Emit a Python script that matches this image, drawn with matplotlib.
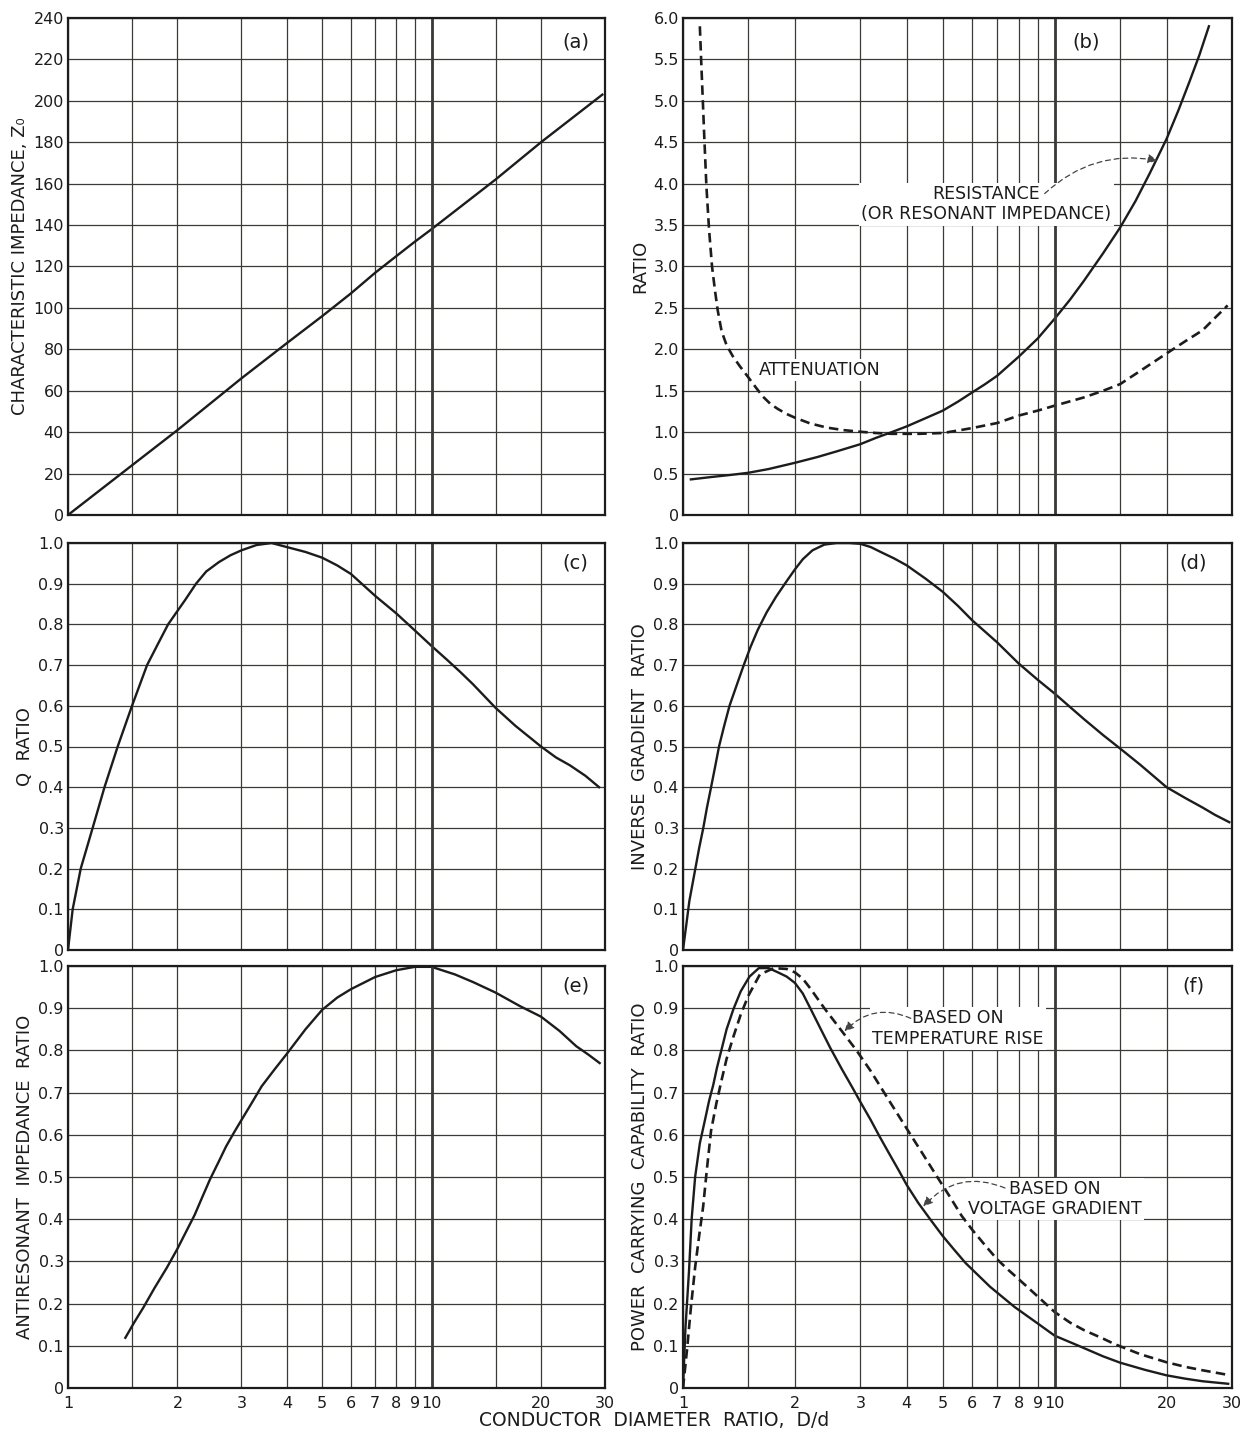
import numpy as np
import matplotlib
matplotlib.use("Agg")
import matplotlib.pyplot as plt
from matplotlib.ticker import FixedLocator, NullFormatter, FixedFormatter

# --- data ---
a_x = [1, 1.5, 2, 3, 4, 5, 6, 7, 8, 9, 10, 15, 20, 29.5]
a_z0 = [0, 24, 41, 66, 83, 96, 107, 117, 125, 132, 138, 162, 180, 203]

res_x = [1.05, 1.2, 1.35, 1.5, 1.7, 2.0, 2.3, 2.6, 3.0, 3.3, 3.64, 4.0, 4.5, 5.0, 5.5,
         6, 6.5, 7, 8, 9, 10, 11, 12, 13.5, 15, 16.5, 18, 20, 21.5, 23, 24.5, 26]
res_y = [0.43, 0.46, 0.485, 0.51, 0.555, 0.63, 0.70, 0.77, 0.855, 0.93, 1.0, 1.07, 1.17,
         1.26, 1.37, 1.48, 1.58, 1.68, 1.91, 2.13, 2.37, 2.6, 2.83, 3.16, 3.47, 3.79,
         4.12, 4.54, 4.88, 5.22, 5.55, 5.9]

att_x = [1.11, 1.12, 1.13, 1.14, 1.156, 1.175, 1.197, 1.22, 1.24, 1.27, 1.31, 1.36,
         1.42, 1.5, 1.57, 1.64, 1.72, 1.8, 1.9, 2.0, 2.2, 2.44, 2.7, 3.0, 3.3, 3.64,
         4.3, 5, 5.5, 6, 7, 8, 9, 10, 12, 13.5, 15, 17, 20, 22.5, 25, 27, 29.2]
att_y = [5.9, 5.45, 5.03, 4.6, 3.97, 3.45, 3.0, 2.7, 2.47, 2.22, 2.05, 1.92, 1.80,
         1.66, 1.54, 1.43, 1.34, 1.28, 1.22, 1.175, 1.105, 1.055, 1.025, 1.005, 0.99,
         0.98, 0.98, 0.99, 1.02, 1.05, 1.11, 1.2, 1.26, 1.32, 1.42, 1.5, 1.58, 1.74,
         1.95, 2.1, 2.23, 2.38, 2.53]

q_x = [1, 1.03, 1.084, 1.169, 1.26, 1.37, 1.5, 1.65, 1.77, 1.885, 2.0, 2.1, 2.25, 2.4,
       2.6, 2.8, 3.0, 3.3, 3.63, 4, 4.5, 5, 5.5, 6, 7, 8, 9, 10, 11, 12, 13, 15, 17,
       20, 22, 24, 26.5, 28.9]
q_y = [0, 0.1, 0.2, 0.30, 0.40, 0.50, 0.60, 0.70, 0.753, 0.80, 0.833, 0.86, 0.90,
       0.93, 0.953, 0.97, 0.982, 0.995, 1.0, 0.99, 0.978, 0.964, 0.945, 0.924, 0.87,
       0.827, 0.785, 0.747, 0.714, 0.683, 0.653, 0.595, 0.551, 0.50, 0.473, 0.454,
       0.428, 0.40]

ig_x = [1, 1.02, 1.04, 1.078, 1.105, 1.134, 1.16, 1.19, 1.22, 1.25, 1.29, 1.334, 1.4,
        1.457, 1.52, 1.59, 1.68, 1.78, 1.89, 2.0, 2.1, 2.23, 2.4, 2.59, 2.8, 3.0, 3.2,
        3.42, 3.7, 4, 4.5, 5, 5.5, 6, 6.5, 7, 8, 9, 10, 11, 12, 13.5, 15, 17, 20, 22.5,
        25, 27, 29.5]
ig_y = [0, 0.06, 0.12, 0.197, 0.25, 0.30, 0.35, 0.40, 0.45, 0.50, 0.55, 0.60, 0.655,
        0.70, 0.745, 0.787, 0.83, 0.868, 0.903, 0.935, 0.96, 0.982, 0.996, 1.0, 1.0,
        0.998, 0.99, 0.977, 0.962, 0.945, 0.912, 0.88, 0.845, 0.81, 0.782, 0.756,
        0.704, 0.664, 0.63, 0.597, 0.567, 0.528, 0.495, 0.455, 0.40, 0.373, 0.35,
        0.332, 0.314]

ar_x = [1.438, 1.52, 1.61, 1.73, 1.87, 2.0, 2.1, 2.23, 2.34, 2.46, 2.6, 2.72, 2.86,
        3.0, 3.2, 3.41, 3.7, 4, 4.5, 5, 5.5, 6, 7, 8, 9, 10, 11.6, 13, 15, 17.5, 20,
        22.5, 25, 27, 29]
ar_y = [0.119, 0.155, 0.19, 0.237, 0.285, 0.33, 0.366, 0.41, 0.452, 0.495, 0.537, 0.572,
        0.605, 0.635, 0.675, 0.715, 0.755, 0.792, 0.85, 0.896, 0.925, 0.945, 0.974,
        0.99, 0.998, 0.998, 0.98, 0.962, 0.937, 0.905, 0.88, 0.846, 0.81, 0.79, 0.77]

volt_x = [1, 1.015, 1.038, 1.055, 1.078, 1.11, 1.147, 1.175, 1.206, 1.235, 1.268, 1.31,
          1.367, 1.43, 1.51, 1.6, 1.7, 1.8, 1.9, 2.0, 2.1, 2.2, 2.34, 2.49, 2.67, 2.86,
          3.0, 3.2, 3.37, 3.6, 3.81, 4.0, 4.3, 4.65, 5.0, 5.35, 5.76, 6.7, 7.8, 9, 10,
          11.6, 13.5, 15, 17.5, 20, 22.5, 25, 29.3]
volt_y = [0, 0.14, 0.278, 0.40, 0.50, 0.58, 0.637, 0.68, 0.718, 0.76, 0.80, 0.85,
          0.898, 0.94, 0.975, 0.995, 0.995, 0.985, 0.975, 0.96, 0.935, 0.90, 0.853,
          0.806, 0.757, 0.711, 0.678, 0.635, 0.598, 0.553, 0.515, 0.481, 0.438, 0.397,
          0.36, 0.329, 0.296, 0.24, 0.192, 0.153, 0.124, 0.10, 0.075, 0.06, 0.043,
          0.03, 0.022, 0.016, 0.01]

temp_x = [1, 1.025, 1.05, 1.078, 1.105, 1.133, 1.16, 1.19, 1.23, 1.268, 1.31, 1.367,
          1.43, 1.5, 1.61, 1.756, 1.9, 2.0, 2.1, 2.2, 2.4, 2.6, 2.93, 3.2, 3.58, 4.09,
          4.4, 4.8, 5.2, 5.62, 6.0, 6.5, 7.0, 7.5, 8, 8.5, 9, 9.5, 10, 11, 12, 13.5,
          14.5, 17, 20, 22.5, 25, 29.3]
temp_y = [0, 0.09, 0.19, 0.286, 0.36, 0.43, 0.52, 0.61, 0.675, 0.727, 0.78, 0.833,
          0.885, 0.93, 0.98, 0.995, 0.993, 0.985, 0.97, 0.947, 0.90, 0.86, 0.80, 0.751,
          0.682, 0.601, 0.557, 0.504, 0.456, 0.408, 0.375, 0.338, 0.305, 0.28, 0.258,
          0.237, 0.217, 0.198, 0.18, 0.155, 0.137, 0.117, 0.104, 0.08, 0.061, 0.05,
          0.042, 0.031]

x_major = [1, 2, 3, 4, 5, 6, 7, 8, 9, 10, 20, 30]
x_minor = [1.5, 15]
x_labels = ["1", "2", "3", "4", "5", "6", "7", "8", "9", "10", "20", "30"]

ratio_ticks = [0, 0.1, 0.2, 0.3, 0.4, 0.5, 0.6, 0.7, 0.8, 0.9, 1.0]
ratio_labels = ["0", "0.1", "0.2", "0.3", "0.4", "0.5", "0.6", "0.7", "0.8", "0.9", "1.0"]
z_ticks = list(range(0, 241, 20))
z_labels = [str(v) for v in z_ticks]
b_ticks = [0, 0.5, 1.0, 1.5, 2.0, 2.5, 3.0, 3.5, 4.0, 4.5, 5.0, 5.5, 6.0]
b_labels = ["0"] + ["%.1f" % v for v in b_ticks[1:]]

INK = "#1c1c1c"
GRID = "#3a3a36"
ARROW = "#444444"
plt.rcParams['font.family'] = ['DejaVu Sans']

fig = plt.figure(figsize=(12.46, 14.35), dpi=100)
W, H = 1246, 1435

def make_ax(left, right, top, bottom):
    return fig.add_axes([left / W, 1 - bottom / H, (right - left) / W, (bottom - top) / H])

def style(ax, yticks, ylabels, ylabel, tag, tag_x, bottom_row=False):
    ax.set_xscale('log')
    ax.set_xlim(1, 30)
    ax.set_ylim(yticks[0], yticks[-1])
    ax.xaxis.set_major_locator(FixedLocator(x_major))
    ax.xaxis.set_minor_locator(FixedLocator(x_minor))
    ax.xaxis.set_minor_formatter(NullFormatter())
    if bottom_row:
        ax.xaxis.set_major_formatter(FixedFormatter(x_labels))
    else:
        ax.xaxis.set_major_formatter(NullFormatter())
    ax.set_yticks(yticks)
    ax.set_yticklabels(ylabels)
    ax.tick_params(which='both', length=0, labelsize=11.5, colors=INK, pad=3)
    ax.tick_params(axis='x', pad=6)
    ax.grid(True, which='both', color=GRID, lw=0.9)
    ax.axvline(10, color=GRID, lw=2.0)
    for s in ax.spines.values():
        s.set_color(INK)
        s.set_linewidth(1.6)
    ax.set_ylabel(ylabel, fontsize=13, color=INK, labelpad=3)
    ax.text(tag_x, 0.952, tag, transform=ax.transAxes, fontsize=14, color=INK,
            ha='center', va='center')

def note(ax, x, y, s):
    ax.text(x, y, s, fontsize=12.5, color=INK, ha='center', va='center',
            multialignment='center', linespacing=1.15, zorder=5,
            bbox=dict(facecolor='white', edgecolor='none', pad=1.5))

def arrow(ax, start, end, rad):
    ax.annotate("", xy=end, xytext=start, zorder=6,
                arrowprops=dict(arrowstyle='-|>', color=ARROW, lw=0.9, ls=(0, (4, 3)),
                                connectionstyle='arc3,rad=%s' % rad, shrinkA=0,
                                shrinkB=0, mutation_scale=14))

L0, L1 = 68, 605
R0, R1 = 683, 1232
rows = [(18, 515), (543, 950), (966, 1388)]
SOLID = dict(color=INK, lw=1.7, solid_joinstyle='round')
DASH = dict(color=INK, lw=1.9, dashes=(3.6, 2.0))

# (a)
ax = make_ax(L0, L1, *rows[0])
ax.plot(a_x, a_z0, **SOLID)
style(ax, z_ticks, z_labels, "CHARACTERISTIC IMPEDANCE, Z₀", "(a)", 0.945)

# (b)
ax = make_ax(R0, R1, *rows[0])
ax.plot(res_x, res_y, **SOLID)
ax.plot(att_x, att_y, **DASH)
style(ax, b_ticks, b_labels, "RATIO", "(b)", 0.735)
note(ax, 6.55, 3.75, "RESISTANCE\n(OR RESONANT IMPEDANCE)")
arrow(ax, (9.4, 3.88), (18.9, 4.28), -0.25)
note(ax, 2.33, 1.75, "ATTENUATION")

# (c)
ax = make_ax(L0, L1, *rows[1])
ax.plot(q_x, q_y, **SOLID)
style(ax, ratio_ticks, ratio_labels, "Q  RATIO", "(c)", 0.945)

# (d)
ax = make_ax(R0, R1, *rows[1])
ax.plot(ig_x, ig_y, **SOLID)
style(ax, ratio_ticks, ratio_labels, "INVERSE  GRADIENT  RATIO", "(d)", 0.93)

# (e)
ax = make_ax(L0, L1, *rows[2])
ax.plot(ar_x, ar_y, **SOLID)
style(ax, ratio_ticks, ratio_labels, "ANTIRESONANT  IMPEDANCE  RATIO", "(e)", 0.945,
      bottom_row=True)

# (f)
ax = make_ax(R0, R1, *rows[2])
ax.plot(volt_x, volt_y, **SOLID)
ax.plot(temp_x, temp_y, **DASH)
style(ax, ratio_ticks, ratio_labels, "POWER  CARRYING  CAPABILITY  RATIO", "(f)", 0.93,
      bottom_row=True)
note(ax, 5.5, 0.852, "BASED ON\nTEMPERATURE RISE")
arrow(ax, (4.1, 0.876), (2.72, 0.845), 0.35)
note(ax, 10.0, 0.448, "BASED ON\nVOLTAGE GRADIENT")
arrow(ax, (7.35, 0.474), (4.43, 0.43), 0.35)

fig.text(654 / W, 1 - 1420 / H, "CONDUCTOR  DIAMETER  RATIO,  D/d", fontsize=13.5,
         color=INK, ha='center', va='center')

fig.savefig("out.png", dpi=100, facecolor='white')
